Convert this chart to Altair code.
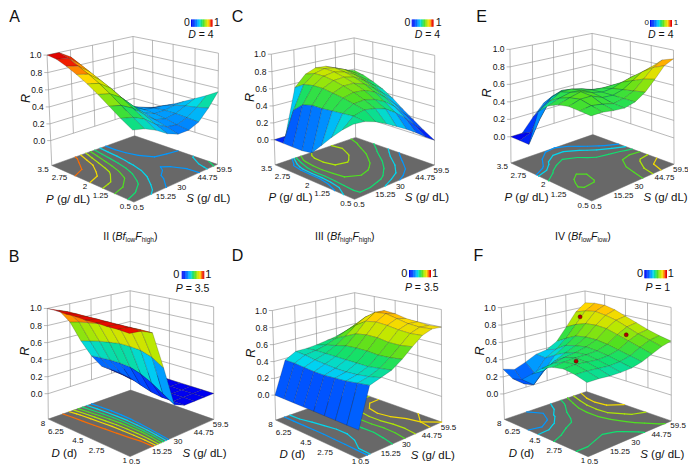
import numpy as np
import altair as alt

# ------------------------------------------------------------------
# Values
# ------------------------------------------------------------------
P_TICKS = ["3.5", "2.75", "2", "1.25", "0.5"]
D_TICKS = ["8", "6.25", "4.5", "2.75", "1"]
S_TICKS = ["0.5", "15.25", "30", "44.75", "59.5"]
R_TICK_VALUES = [0.0, 0.2, 0.4, 0.6, 0.8, 1.0]
R_TICK_LABELS = ["0.0", "0.2", "0.4", "0.6", "0.8", "1.0"]

P_GRID = [3.5, 3.125, 2.75, 2.375, 2.0, 1.625, 1.25, 0.875, 0.5]
D_GRID = [8.0, 7.125, 6.25, 5.375, 4.5, 3.625, 2.75, 1.875, 1.0]
S_GRID = [0.5, 7.875, 15.25, 22.625, 30.0, 37.375, 44.75, 52.125, 59.5]

# rows: first variable (P or D) from high to low; columns: S from low to high
R_A = [
    [1.00, 1.00, 0.92, 0.72, 0.48, 0.30, 0.15, 0.07, 0.05],
    [0.98, 0.96, 0.86, 0.66, 0.45, 0.30, 0.19, 0.12, 0.08],
    [0.93, 0.90, 0.80, 0.61, 0.43, 0.31, 0.23, 0.17, 0.13],
    [0.87, 0.84, 0.74, 0.57, 0.41, 0.32, 0.27, 0.23, 0.20],
    [0.80, 0.77, 0.68, 0.53, 0.39, 0.32, 0.30, 0.29, 0.27],
    [0.72, 0.69, 0.61, 0.48, 0.36, 0.31, 0.31, 0.33, 0.34],
    [0.63, 0.60, 0.53, 0.42, 0.32, 0.29, 0.31, 0.36, 0.41],
    [0.54, 0.51, 0.45, 0.35, 0.28, 0.26, 0.30, 0.38, 0.48],
    [0.46, 0.43, 0.37, 0.29, 0.24, 0.24, 0.29, 0.41, 0.56],
]
R_C = [
    [0.00, 0.00, 0.55, 0.68, 0.73, 0.72, 0.67, 0.62, 0.58],
    [0.00, 0.35, 0.62, 0.72, 0.75, 0.73, 0.68, 0.61, 0.55],
    [0.00, 0.45, 0.64, 0.72, 0.74, 0.71, 0.65, 0.57, 0.50],
    [0.00, 0.48, 0.64, 0.70, 0.71, 0.68, 0.61, 0.52, 0.44],
    [0.02, 0.48, 0.62, 0.67, 0.67, 0.63, 0.55, 0.45, 0.36],
    [0.15, 0.49, 0.60, 0.63, 0.62, 0.57, 0.48, 0.37, 0.26],
    [0.28, 0.50, 0.57, 0.58, 0.55, 0.49, 0.40, 0.28, 0.17],
    [0.40, 0.51, 0.54, 0.52, 0.48, 0.40, 0.30, 0.18, 0.08],
    [0.50, 0.49, 0.45, 0.39, 0.32, 0.25, 0.17, 0.08, 0.00],
]
R_E = [
    [0.00, 0.00, 0.15, 0.28, 0.30, 0.25, 0.15, 0.08, 0.05],
    [0.00, 0.05, 0.30, 0.40, 0.40, 0.35, 0.25, 0.15, 0.10],
    [0.00, 0.25, 0.45, 0.50, 0.48, 0.43, 0.36, 0.27, 0.20],
    [0.40, 0.48, 0.55, 0.55, 0.52, 0.48, 0.45, 0.40, 0.33],
    [0.50, 0.55, 0.58, 0.57, 0.54, 0.53, 0.53, 0.52, 0.48],
    [0.55, 0.59, 0.62, 0.58, 0.55, 0.56, 0.60, 0.63, 0.62],
    [0.57, 0.61, 0.61, 0.56, 0.55, 0.58, 0.65, 0.72, 0.75],
    [0.56, 0.58, 0.56, 0.53, 0.55, 0.60, 0.70, 0.80, 0.86],
    [0.55, 0.55, 0.53, 0.52, 0.55, 0.62, 0.73, 0.85, 0.90],
]
R_B = [
    [1.00, 0.95, 0.78, 0.52, 0.30, 0.13, 0.04, 0.01, 0.00],
    [1.00, 0.96, 0.81, 0.55, 0.31, 0.13, 0.03, 0.00, 0.00],
    [0.99, 0.96, 0.83, 0.58, 0.32, 0.12, 0.01, 0.00, 0.00],
    [0.99, 0.96, 0.85, 0.60, 0.32, 0.10, 0.00, 0.00, 0.00],
    [0.98, 0.96, 0.87, 0.62, 0.31, 0.06, 0.00, 0.00, 0.00],
    [0.98, 0.96, 0.88, 0.62, 0.27, 0.02, 0.00, 0.00, 0.00],
    [0.97, 0.96, 0.89, 0.61, 0.21, 0.00, 0.00, 0.00, 0.00],
    [0.97, 0.96, 0.90, 0.57, 0.13, 0.00, 0.00, 0.00, 0.00],
    [0.96, 0.95, 0.90, 0.49, 0.05, 0.00, 0.00, 0.00, 0.00],
]
R_D = [
    [0.00, 0.38, 0.45, 0.45, 0.46, 0.48, 0.50, 0.52, 0.52],
    [0.00, 0.38, 0.44, 0.46, 0.49, 0.54, 0.60, 0.65, 0.66],
    [0.00, 0.37, 0.42, 0.46, 0.52, 0.60, 0.70, 0.77, 0.78],
    [0.00, 0.36, 0.41, 0.46, 0.55, 0.66, 0.78, 0.86, 0.85],
    [0.00, 0.36, 0.40, 0.46, 0.56, 0.68, 0.80, 0.87, 0.84],
    [0.00, 0.37, 0.40, 0.46, 0.56, 0.68, 0.79, 0.84, 0.81],
    [0.00, 0.38, 0.41, 0.46, 0.55, 0.66, 0.77, 0.81, 0.80],
    [0.00, 0.40, 0.43, 0.48, 0.56, 0.66, 0.76, 0.80, 0.79],
    [0.00, 0.42, 0.46, 0.50, 0.58, 0.68, 0.77, 0.81, 0.80],
]
R_F = [
    [0.29, 0.25, 0.30, 0.36, 0.38, 0.45, 0.60, 0.76, 0.85],
    [0.22, 0.12, 0.20, 0.35, 0.42, 0.52, 0.66, 0.80, 0.87],
    [0.25, 0.15, 0.28, 0.42, 0.50, 0.58, 0.70, 0.82, 0.87],
    [0.35, 0.35, 0.42, 0.48, 0.53, 0.60, 0.71, 0.80, 0.84],
    [0.45, 0.47, 0.50, 0.52, 0.55, 0.60, 0.70, 0.77, 0.79],
    [0.50, 0.52, 0.53, 0.53, 0.54, 0.58, 0.66, 0.72, 0.74],
    [0.52, 0.53, 0.52, 0.51, 0.52, 0.55, 0.62, 0.67, 0.69],
    [0.50, 0.50, 0.49, 0.48, 0.49, 0.52, 0.58, 0.63, 0.65],
    [0.46, 0.46, 0.45, 0.45, 0.46, 0.49, 0.54, 0.59, 0.62],
]

# experimental points shown on panel F
F_DOT_D = [7.3, 3.1, 4.15]
F_DOT_S = [49.5, 46.5, 20.0]
F_DOT_R = [0.73, 0.67, 0.45]

CONTOUR_LEVELS = [0.3, 0.4, 0.5, 0.6, 0.7, 0.8, 0.9]

JET_STOPS = [0.0, 0.15, 0.3, 0.4, 0.5, 0.6, 0.72, 0.82, 0.89, 0.95, 1.0]
JET_COLORS = ["#0000f0", "#0040ff", "#0098ff", "#00d8f0", "#10e070",
              "#50e020", "#c0e800", "#ffd800", "#ff8000", "#ee1000", "#d80000"]

# ------------------------------------------------------------------
# Layout of each 3-D box (page pixels of the box corners)
# corner order: left (first max, S min), front, right, back
# ------------------------------------------------------------------
PANELS = [
    dict(name="A", grid=R_A, first=P_GRID, ticks=P_TICKS, var="P", unit="(g/ dL)",
         fixed=("D", "= 4"),
         floor=[(51.5, 163.0), (135.0, 205.0), (216.5, 161.7), (135.0, 139.5)],
         top=[(46.7, 57.3), (218.3, 53.3), (133.5, 35.0)], zero=(50.4, 138.3),
         letter=(14.5, 16.5), cb=(191.0, 212.3, 19.5, 26.7), cb0=(187.0, 23.0), cb1=(217.0, 23.0),
         cbl=(201.0, 34.8), cbsize=10.5),
    dict(name="C", grid=R_C, first=P_GRID, ticks=P_TICKS, var="P", unit="(g/ dL)",
         fixed=("D", "= 4"),
         floor=[(275.0, 163.3), (356.0, 201.7), (433.3, 163.3), (356.0, 140.5)],
         top=[(270.7, 56.7), (434.5, 55.0), (355.0, 36.7)], zero=(273.7, 136.7),
         letter=(237.5, 16.5), cb=(411.7, 433.3, 19.5, 26.7), cb0=(407.5, 23.0), cb1=(438.7, 23.0),
         cbl=(427.5, 34.8), cbsize=10.5),
    dict(name="E", grid=R_E, first=P_GRID, ticks=P_TICKS, var="P", unit="(g/ dL)",
         fixed=("D", "= 4"),
         floor=[(511.0, 162.7), (592.7, 203.3), (673.0, 162.3), (593.0, 137.5)],
         top=[(509.3, 51.7), (673.5, 50.0), (592.7, 32.3)], zero=(510.6, 132.7),
         letter=(481.7, 16.5), cb=(650.0, 671.7, 20.0, 26.7), cb0=(646.7, 23.3), cb1=(676.0, 23.3),
         cbl=(660.8, 34.5), cbsize=8),
    dict(name="B", grid=R_B, first=D_GRID, ticks=D_TICKS, var="D", unit="(d)",
         fixed=("P", "= 3.5"),
         floor=[(48.3, 418.3), (131.0, 458.0), (213.3, 418.3), (130.5, 392.0)],
         top=[(46.7, 310.0), (213.3, 306.7), (131.0, 290.0)], zero=(47.9, 391.7),
         letter=(14.0, 257.3), cb=(181.7, 204.0, 271.0, 279.0), cb0=(176.2, 275.0), cb1=(208.3, 275.0),
         cbl=(192.5, 288.8), cbsize=11),
    dict(name="D", grid=R_D, first=D_GRID, ticks=D_TICKS, var="D", unit="(d)",
         fixed=("P", "= 3.5"),
         floor=[(275.0, 417.7), (361.7, 460.5), (440.0, 421.7), (357.0, 394.0)],
         top=[(271.7, 313.3), (440.7, 308.3), (356.0, 291.7)], zero=(274.2, 393.3),
         letter=(237.5, 255.8), cb=(409.0, 430.7, 270.0, 277.3), cb0=(404.2, 273.5), cb1=(435.0, 273.5),
         cbl=(421.7, 288.2), cbsize=11),
    dict(name="F", grid=R_F, first=D_GRID, ticks=D_TICKS, var="D", unit="(d)",
         fixed=("P", "= 1"),
         floor=[(504.0, 417.7), (590.0, 458.5), (670.0, 420.0), (587.0, 394.0)],
         top=[(500.7, 310.0), (670.7, 306.7), (586.0, 290.0)], zero=(503.2, 391.7),
         letter=(478.3, 255.8), cb=(644.3, 666.7, 270.0, 278.3), cb0=(640.0, 274.0), cb1=(670.8, 274.0),
         cbl=(657.8, 288.2), cbsize=11),
]

ROW_LABELS = [
    (103.3, 236.7, [("II (", False), ("Bf", True), ("low", "sub"), ("F", True), ("high", "sub"), (")", False)]),
    (315.0, 236.7, [("III (", False), ("Bf", True), ("high", "sub"), ("F", True), ("high", "sub"), (")", False)]),
    (555.0, 236.7, [("IV (", False), ("Bf", True), ("low", "sub"), ("F", True), ("low", "sub"), (")", False)]),
]

FONT = "Liberation Sans"
Z_FLOOR = -0.3
Y_MAX_TEXT = 461.5
CHAR_W = {".": 0.278, " ": 0.278, "(": 0.333, ")": 0.333, "g": 0.556, "/": 0.278, "d": 0.556,
          "L": 0.556, "P": 0.667, "S": 0.667, "D": 0.722, "R": 0.722, "=": 0.584, "B": 0.667,
          "f": 0.278, "F": 0.611, "I": 0.278, "V": 0.667, "l": 0.222, "o": 0.556, "w": 0.722,
          "h": 0.556, "i": 0.222}


def tw(s, size):
    return sum(CHAR_W.get(c, 0.556) for c in s) * size


def fit_camera(world, screen):
    W = np.asarray(world, float)
    S = np.asarray(screen, float)
    mS = S.mean(0)
    sS = np.sqrt(((S - mS) ** 2).sum(1).mean() / 2.0)
    mW = W.mean(0)
    sW = np.sqrt(((W - mW) ** 2).sum(1).mean() / 3.0)
    T = np.array([[1 / sS, 0, -mS[0] / sS], [0, 1 / sS, -mS[1] / sS], [0, 0, 1.0]])
    U = np.eye(4)
    U[:3, :3] /= sW
    U[:3, 3] = -mW / sW
    rows = []
    for Xw, s in zip(W, S):
        Xh = U @ np.r_[Xw, 1.0]
        u, v, _ = T @ np.r_[s, 1.0]
        rows.append(np.r_[Xh, np.zeros(4), -u * Xh])
        rows.append(np.r_[np.zeros(4), Xh, -v * Xh])
    _, _, Vt = np.linalg.svd(np.array(rows))
    P = np.linalg.inv(T) @ Vt[-1].reshape(3, 4) @ U
    if (P @ np.r_[W[0], 1.0])[2] < 0:
        P = -P
    return P


def proj(P, a, b, z):
    h = P @ np.array([a, b, z, 1.0])
    return float(h[0] / h[2]), float(h[1] / h[2]), float(h[2])


def feat(geom, **props):
    d = {"type": "Feature", "geometry": geom, "properties": {}}
    d.update(props)
    return d


def poly(pts):
    ring = [[float(x), float(y)] for x, y in pts]
    ring.append(ring[0])
    return {"type": "Polygon", "coordinates": [ring]}


def lstr(pts):
    return {"type": "LineString", "coordinates": [[float(x), float(y)] for x, y in pts]}


def contour_segments(G, level):
    segs = []
    n, m = G.shape
    for i in range(n - 1):
        for j in range(m - 1):
            c = [(i, j), (i + 1, j), (i + 1, j + 1), (i, j + 1)]
            pts = []
            for k in range(4):
                (i1, j1), (i2, j2) = c[k], c[(k + 1) % 4]
                v1, v2 = G[i1, j1] - level, G[i2, j2] - level
                if v1 * v2 < 0:
                    t = v1 / (v1 - v2)
                    pts.append((i1 + t * (i2 - i1), j1 + t * (j2 - j1)))
            if len(pts) == 2:
                segs.append(pts)
            elif len(pts) == 4:
                segs.append(pts[:2])
                segs.append(pts[2:])
    return segs


walls, floors, contours, quads, colorbars, dots = [], [], [], [], [], []
texts = []


def add_text(x, y, s, size, italic=False, align="center", angle=0):
    texts.append(dict(x=float(x), y=float(min(y, Y_MAX_TEXT)), text=s, size=size, italic=italic,
                      align=align, angle=angle))


def add_rich(x_left, y, parts, size, sub_size=None):
    x = x_left
    for s, kind in parts:
        if kind == "sub":
            add_text(x, y + 3.2, s, sub_size, False, "left")
            x += tw(s, sub_size)
        else:
            add_text(x, y, s, size, kind, "left")
            x += tw(s, size)


def add_title(xc, y, var, rest, size):
    w1, wsp, w2 = tw(var, size), tw(" ", size), tw(rest, size)
    x0 = xc - (w1 + wsp + w2) / 2
    add_text(x0, y, var, size, True, "left")
    add_text(x0 + w1 + wsp, y, rest, size, False, "left")


S_ARR = np.array(S_GRID)
b_vals = (S_ARR - S_ARR[0]) / (S_ARR[-1] - S_ARR[0])

for pn in PANELS:
    world = [(0, 0, Z_FLOOR), (1, 0, Z_FLOOR), (1, 1, Z_FLOOR), (0, 1, Z_FLOOR),
             (0, 0, 1.0), (1, 1, 1.0), (0, 1, 1.0), (0, 0, 0.0)]
    P = fit_camera(world, pn["floor"] + pn["top"] + [pn["zero"]])
    pr = lambda a, b, z: proj(P, a, b, z)[:2]

    # back walls with grid
    for z in R_TICK_VALUES:
        walls.append(feat(lstr([pr(0, 0, z), pr(0, 1, z)])))
        walls.append(feat(lstr([pr(0, 1, z), pr(1, 1, z)])))
    for t in [0.25, 0.5, 0.75]:
        walls.append(feat(lstr([pr(0, t, 0), pr(0, t, 1)])))
        walls.append(feat(lstr([pr(t, 1, 0), pr(t, 1, 1)])))
    for a, b in [(0, 0), (0, 1), (1, 1)]:
        walls.append(feat(lstr([pr(a, b, Z_FLOOR), pr(a, b, 1)])))
    # R axis ticks and labels
    for z, lab in zip(R_TICK_VALUES, R_TICK_LABELS):
        x, y = pr(0, 0, z)
        walls.append(feat(lstr([(x - 3.5, y), (x, y)])))
        add_text(x - 5.5, y, lab, 8.5, False, "right")
    xr, yr = pr(0, 0, 0.5)
    add_text(xr - 23, yr, "R", 12.5, True, "center", 270)

    # floor
    floors.append(feat(poly([pr(0, 0, Z_FLOOR), pr(1, 0, Z_FLOOR), pr(1, 1, Z_FLOOR), pr(0, 1, Z_FLOOR)])))

    G = np.array(pn["grid"], float)
    first = np.array(pn["first"], float)
    a_vals = (first[0] - first) / (first[0] - first[-1])
    n = len(a_vals)

    # contour lines projected on the floor
    for lev in CONTOUR_LEVELS:
        for seg in contour_segments(G, lev + 1e-6):
            pts = []
            for gi, gj in seg:
                a = np.interp(gi, np.arange(n), a_vals)
                b = np.interp(gj, np.arange(len(b_vals)), b_vals)
                pts.append(pr(a, b, Z_FLOOR))
            contours.append(feat(lstr(pts), level=lev))

    # surface quads, painted back to front
    qs = []
    for i in range(n - 1):
        for j in range(len(b_vals) - 1):
            cs = [(i, j), (i + 1, j), (i + 1, j + 1), (i, j + 1)]
            pp = [proj(P, a_vals[ii], b_vals[jj], G[ii, jj]) for ii, jj in cs]
            depth = np.mean([p[2] for p in pp])
            rv = float(np.mean([G[ii, jj] for ii, jj in cs]))
            qs.append((depth, feat(poly([(p[0], p[1]) for p in pp]), R=rv)))
    qs.sort(key=lambda q: -q[0])
    quads.extend(q[1] for q in qs)

    # floor axis tick labels and titles
    for k, lab in enumerate(pn["ticks"]):
        x, y = pr(k / 4, 0, Z_FLOOR)
        add_text(x - 3, y + 4.5, lab, 8, False, "right")
    for k, lab in enumerate(S_TICKS):
        x, y = pr(1, k / 4, Z_FLOOR)
        add_text(x - 1, y + 5.5, lab, 8, False, "left")
    xm, ym = pr(0.5, 0, Z_FLOOR)
    add_title(xm - 22, ym + 17, pn["var"], pn["unit"], 11.5)
    xm, ym = pr(1, 0.5, Z_FLOOR)
    add_title(xm + 30, ym + 17, "S", "(g/ dL)", 11.5)

    # panel letter
    add_text(pn["letter"][0], pn["letter"][1], pn["name"], 16, False, "center")

    # colour bar
    cx0, cx1, cy0, cy1 = pn["cb"]
    nsl = 30
    for k in range(nsl):
        xa = cx0 + (cx1 - cx0) * k / nsl
        xb = cx0 + (cx1 - cx0) * (k + 1) / nsl + 0.3
        colorbars.append(feat(poly([(xa, cy0), (xb, cy0), (xb, cy1), (xa, cy1)]), R=(k + 0.5) / nsl))
    add_text(pn["cb0"][0], pn["cb0"][1], "0", pn["cbsize"], False, "center")
    add_text(pn["cb1"][0], pn["cb1"][1], "1", pn["cbsize"], False, "center")
    add_title(pn["cbl"][0], pn["cbl"][1], pn["fixed"][0], pn["fixed"][1], 10.5)

    if pn["name"] == "F":
        for dd, ss, rr in zip(F_DOT_D, F_DOT_S, F_DOT_R):
            a = (first[0] - dd) / (first[0] - first[-1])
            b = (ss - S_ARR[0]) / (S_ARR[-1] - S_ARR[0])
            x, y = pr(a, b, rr)
            dots.append(dict(x=x, y=y))

for x, y, parts in ROW_LABELS:
    add_rich(x, y, parts, 10.5, 6.5)

# ------------------------------------------------------------------
# Chart
# ------------------------------------------------------------------
PROJ = dict(type="identity", scale=1, translate=[-8, -8])
jet = alt.Scale(domain=JET_STOPS, range=JET_COLORS, clamp=True, interpolate="rgb")

layers = [
    alt.Chart(alt.Data(values=walls)).mark_geoshape(filled=False, stroke="#939393", strokeWidth=0.65).project(**PROJ),
    alt.Chart(alt.Data(values=floors)).mark_geoshape(fill="#686868", stroke="#686868", strokeWidth=0.5).project(**PROJ),
    alt.Chart(alt.Data(values=contours)).mark_geoshape(filled=False, strokeWidth=1.2, strokeCap="round").encode(
        color=alt.Color("level:Q", scale=jet, legend=None)).project(**PROJ),
    alt.Chart(alt.Data(values=quads)).mark_geoshape(stroke="#1a1a1a", strokeWidth=0.35, strokeOpacity=0.6).encode(
        color=alt.Color("R:Q", scale=jet, legend=None)).project(**PROJ),
    alt.Chart(alt.Data(values=dots)).mark_circle(size=16, color="#b00000", opacity=1, stroke="#500000",
                                                  strokeWidth=0.5).encode(
        longitude="x:Q", latitude="y:Q").project(**PROJ),
    alt.Chart(alt.Data(values=colorbars)).mark_geoshape(strokeWidth=0).encode(
        color=alt.Color("R:Q", scale=jet, legend=None)).project(**PROJ),
]

groups = {}
for t in texts:
    groups.setdefault((t["italic"], t["align"], t["angle"]), []).append(t)
for (italic, align, angle), recs in groups.items():
    layers.append(
        alt.Chart(alt.Data(values=recs)).mark_text(
            font=FONT, fontStyle="italic" if italic else "normal", align=align, baseline="middle",
            angle=angle, color="#111111").encode(
            longitude="x:Q", latitude="y:Q", text="text:N", size=alt.Size("size:Q", scale=None)
        ).project(**PROJ)
    )

chart = alt.layer(*layers).properties(
    width=680, height=458, padding=0, autosize=alt.AutoSizeParams(type="none"), background="white"
).configure_view(stroke=None)

chart.save("out.html", embed_options={"renderer": "svg", "actions": False})
